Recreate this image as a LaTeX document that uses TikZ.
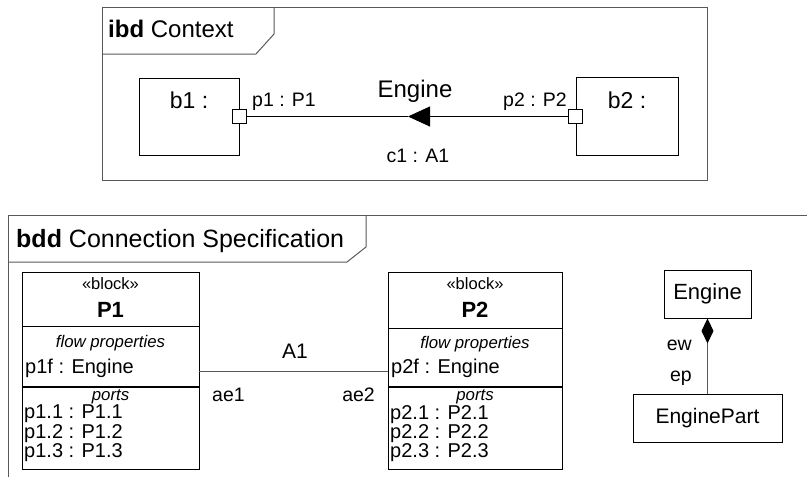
\documentclass[tikz,border=0pt]{standalone}
\usepackage{fontspec}
\setmainfont{Liberation Sans}
\usetikzlibrary{positioning, arrows.meta}

\newcommand{\fsz}[1]{\fontsize{#1}{#1}\selectfont}

\begin{document}
\begin{tikzpicture}[
    x=1pt, y=-1pt,
    frame/.style={draw=black!65, line width=1pt},
    box/.style={draw, line width=0.9pt, inner sep=0pt},
    comp/.style={box, minimum width=177pt},
    port/.style={draw, fill=white, line width=0.9pt, minimum size=14pt, inner sep=0pt},
    conn/.style={line width=0.9pt},
    assoc/.style={draw=black!65, line width=1pt},
    lbl/.style={font=\fsz{19.5}, inner sep=0pt},
    txt/.style={font=\fsz{20}, inner sep=0pt},
    kw/.style={font=\fsz{16.8}\itshape, inner sep=0pt},
    plist/.style={font=\fontsize{20}{18}\selectfont, inner sep=0pt, align=left, anchor=north west},
  ]
    \useasboundingbox (0,0) rectangle (807,490);

    % ibd frame
    \draw[frame] (102,7) rectangle (707,180);
    \draw[frame] (102,54) -- (256,54) -- (274,34) -- (274,7);
    \node[anchor=base west, font=\fsz{24}, inner sep=0pt] (ibdname) at (108,37) {\textbf{ibd} Context};

    % parts and ports
    \node[box, minimum width=100pt, minimum height=77pt] (b1) at (189,116.5) {};
    \node[box, minimum width=102pt, minimum height=78pt] (b2) at (627,116.5) {};
    \node[anchor=base, font=\fsz{23}, inner sep=0pt] (b1name) at (189,108) {b1 :};
    \node[anchor=base, font=\fsz{23}, inner sep=0pt] (b2name) at (627,108) {b2 :};
    \node[port] (pa) at (b1.east) {};
    \node[port] (pb) at (b2.west) {};

    % connector c1 with flow arrow
    \coordinate (flowtip) at (408,116.5);
    \draw[conn, -{Triangle[length=22pt, width=20pt]}] (pb) -- (flowtip);
    \draw[conn] (flowtip) -- (pa);
    \node[lbl, anchor=base west] (paname) at (252,106) {p1 : P1};
    \node[lbl, anchor=base east] (pbname) at (567,106) {p2 : P2};
    \node[anchor=base, font=\fsz{24}, inner sep=0pt] (flowitem) at (415,97) {Engine};
    \node[lbl, anchor=base] (c1name) at (418,162) {c1 : A1};

    % bdd frame
    \draw[frame] (807,215.5) -- (8,215.5) -- (8,477);
    \draw[frame] (8,262) -- (347,262) -- (366,247) -- (366,215.5);
    \node[anchor=base west, font=\fsz{25}, inner sep=0pt] (bddname) at (16,247) {\textbf{bdd} Connection Specification};

    % block P1
    \node[comp, minimum height=54pt] (p1head) at (110.5,299) {};
    \node[comp, minimum height=60pt, below=0pt of p1head] (p1flow) {};
    \node[comp, minimum height=82pt, below=0pt of p1flow] (p1ports) {};
    \node[anchor=base, font=\fsz{16.5}, inner sep=0pt] (p1st) at (110.5,289) {«block»};
    \node[anchor=base, font=\fsz{22}\bfseries, inner sep=0pt] (p1name) at (110.5,317) {P1};
    \node[kw, anchor=base] (p1fp) at (110.5,347) {flow properties};
    \node[txt, anchor=base west] (p1f) at (25,373) {p1f : Engine};
    \node[kw, anchor=base] (p1pt) at (110.5,400) {ports};
    \node[plist] (p1p) at (24,405) {p1.1 : P1.1\\p1.2 : P1.2\\p1.3 : P1.3};

    % block P2
    \node[comp, minimum width=174pt, minimum height=56pt] (p2head) at (475,300) {};
    \node[comp, minimum width=174pt, minimum height=58pt, below=0pt of p2head] (p2flow) {};
    \node[comp, minimum width=174pt, minimum height=82pt, below=0pt of p2flow] (p2ports) {};
    \node[anchor=base, font=\fsz{16.5}, inner sep=0pt] (p2st) at (475,289) {«block»};
    \node[anchor=base, font=\fsz{22}\bfseries, inner sep=0pt] (p2name) at (475,317) {P2};
    \node[kw, anchor=base] (p2fp) at (475,348) {flow properties};
    \node[txt, anchor=base west] (p2f) at (391,373) {p2f : Engine};
    \node[kw, anchor=base] (p2pt) at (475,400) {ports};
    \node[plist] (p2p) at (390,405) {p2.1 : P2.1\\p2.2 : P2.2\\p2.3 : P2.3};

    % association A1
    \draw[assoc] ([yshift=-15pt]p1flow.east) -- ([yshift=-14pt]p2flow.west);
    \node[anchor=base, font=\fsz{21}, inner sep=0pt] (a1name) at (295,358) {A1};
    \node[lbl, anchor=base west] (ae1) at (212,401) {ae1};
    \node[lbl, anchor=base east] (ae2) at (375,401) {ae2};

    % composition Engine / EnginePart
    \node[box, minimum width=87pt, minimum height=48pt, font=\fsz{22}] (eng) at (707.5,294) {Engine};
    \node[box, minimum width=149pt, minimum height=48pt, font=\fsz{21}] (engpart) at (707.5,418) {EnginePart};
    \draw[assoc, {Diamond[length=25pt, width=12pt, color=black]}-] (eng) -- (engpart);
    \node[lbl, anchor=base east] (ew) at (692,350) {ew};
    \node[lbl, anchor=base east] (ep) at (692,381) {ep};
  \end{tikzpicture}
\end{document}
